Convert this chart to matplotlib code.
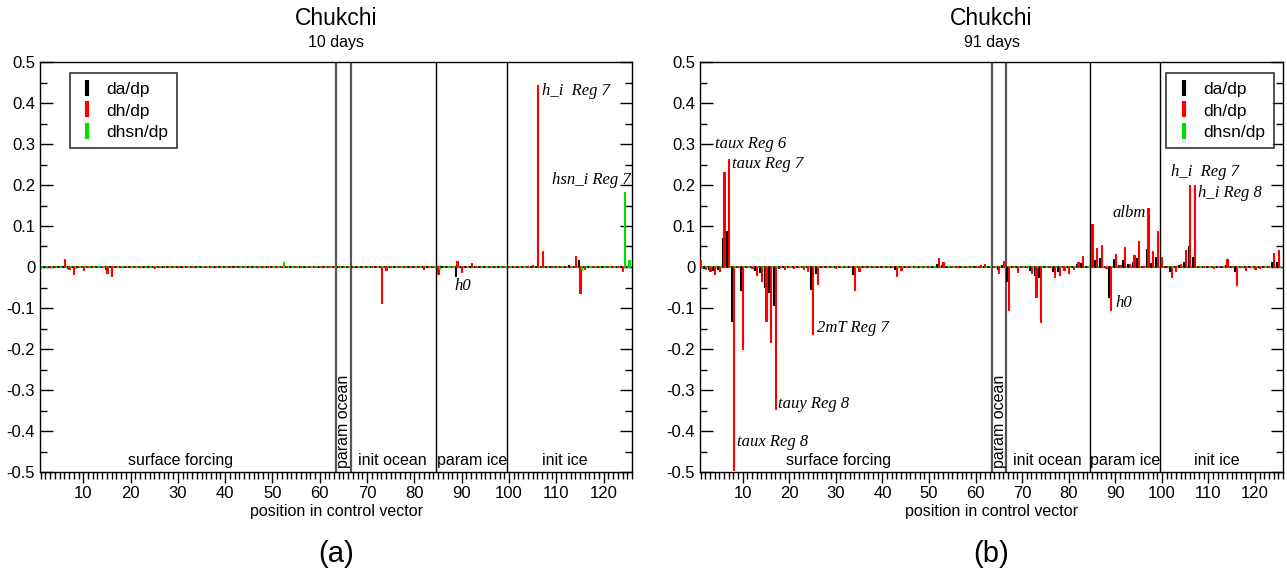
import matplotlib

matplotlib.use("Agg")
import matplotlib.pyplot as plt
import numpy as np
from matplotlib.lines import Line2D
from matplotlib.ticker import FuncFormatter, MultipleLocator

# --- data: (position in control vector, value); all other positions are 0 ---
n_pos = 125

da_10d = [(6, 0.003), (7, -0.002), (15, -0.006), (86, 0.002), (89, -0.022),
          (92, 0.002), (113, 0.004), (115, 0.016), (125, 0.002)]
dh_10d = [(6, 0.02), (7, -0.005), (8, -0.018), (10, -0.007), (15, -0.014),
          (16, -0.022), (25, -0.003), (73, -0.087), (74, -0.008), (82, -0.005),
          (85, -0.018), (89, 0.015), (90, -0.013), (92, 0.009), (105, 0.006),
          (106, 0.445), (107, 0.039), (109, 0.003), (114, 0.027), (115, -0.064),
          (116, -0.005), (124, -0.01)]
dhsn_10d = [(8, -0.003), (52, 0.011), (85, -0.004), (87, 0.002), (115, -0.007),
            (124, 0.183), (125, 0.016)]

da_91d = [(2, -0.003), (3, -0.005), (4, -0.008), (5, -0.004), (6, 0.07), (7, 0.087),
          (8, -0.132), (10, -0.057), (13, -0.008), (14, -0.012), (15, -0.049),
          (16, -0.06), (17, -0.092), (18, -0.003), (25, -0.053), (26, -0.015),
          (34, -0.017), (43, -0.006), (52, 0.007), (53, 0.004), (65, -0.005),
          (66, 0.006), (67, -0.035), (72, -0.008), (73, -0.02), (74, -0.025),
          (77, -0.01), (78, -0.01), (82, 0.008), (83, 0.01), (85, 0.041), (86, 0.018),
          (87, 0.022), (89, -0.072), (90, 0.02), (91, 0.006), (92, 0.017), (93, 0.008),
          (94, 0.012), (95, 0.023), (97, 0.043), (98, 0.01), (99, 0.024), (100, 0.005),
          (102, -0.01), (104, 0.004), (105, 0.012), (106, 0.051), (107, 0.024),
          (114, 0.004), (116, -0.01), (124, 0.013), (125, 0.013)]
dh_91d = [(1, 0.018), (2, -0.005), (3, -0.01), (4, -0.016), (5, -0.01), (6, 0.231),
          (7, 0.263), (8, -0.495), (10, -0.199), (12, -0.003), (13, -0.02),
          (14, -0.035), (15, -0.132), (16, -0.182), (17, -0.347), (19, -0.006),
          (21, -0.003), (23, -0.004), (24, -0.01), (25, -0.164), (26, -0.042),
          (30, -0.003), (34, -0.055), (35, -0.01), (43, -0.023), (44, -0.008),
          (52, 0.023), (53, 0.013), (56, 0.002), (60, 0.003), (61, 0.004), (62, 0.008),
          (65, -0.015), (66, 0.014), (67, -0.104), (68, 0.002), (69, -0.012),
          (72, -0.015), (73, -0.073), (74, -0.133), (77, -0.025), (78, -0.02),
          (79, -0.008), (80, -0.015), (81, -0.005), (82, 0.012), (83, 0.028),
          (85, 0.104), (86, 0.047), (87, 0.054), (88, -0.003), (89, -0.104), (90, 0.031),
          (91, 0.005), (92, 0.048), (93, 0.008), (94, 0.03), (95, 0.064), (96, 0.003),
          (97, 0.145), (98, 0.04), (99, 0.087), (100, 0.025), (101, 0.002),
          (102, -0.024), (103, -0.01), (104, 0.008), (105, 0.041), (106, 0.199),
          (107, 0.199), (111, -0.003), (114, 0.02), (116, -0.045), (118, -0.007),
          (120, -0.004), (121, -0.003), (124, 0.035), (125, 0.041)]
dhsn_91d = [(66, 0.001)]

series_names = ["da/dp", "dh/dp", "dhsn/dp"]
series_colors = ["#000000", "#ff0000", "#00dd00"]
section_bounds = [63.5, 66.5, 84.5, 99.5]
section_labels = [("surface forcing", 30.6), ("init ocean", 75.4),
                  ("param ice", 92.1), ("init ice", 111.8)]

notes_10d = [("h_i  Reg 7", 106.9, 0.43), ("hsn_i Reg 7", 109.0, 0.213), ("h0", 88.4, -0.046)]
notes_91d = [("taux Reg 6", 4.0, 0.30), ("taux Reg 7", 7.7, 0.251), ("taux Reg 8", 8.8, -0.428),
             ("tauy Reg 8", 17.7, -0.334), ("2mT Reg 7", 25.9, -0.148), ("h0", 90.0, -0.088),
             ("albm", 89.4, 0.132), ("h_i  Reg 7", 101.9, 0.232), ("h_i Reg 8", 107.8, 0.181)]


def to_dense(pairs):
    v = np.zeros(n_pos)
    for p, val in pairs:
        v[p - 1] = val
    return v


def draw_panel(ax, series, notes, days, tag, legend_anchor):
    x = np.arange(1, n_pos + 1)
    offsets = [-0.36, 0.0, 0.36]
    w = 0.26
    for vals, col, off in zip(series, series_colors, offsets):
        # bar baselines (zero-height bars show as short dashes along y=0)
        ax.hlines(np.zeros(n_pos), x + off - w / 2 - 0.05, x + off + w / 2 + 0.05,
                  color=col, linewidth=1.3, zorder=2.5)
        ax.bar(x + off, to_dense(vals), width=w, color=col, edgecolor=col,
               linewidth=0.8, zorder=3)

    for b in section_bounds:
        inner = b < 67
        ax.axvline(b, color="#555555" if inner else "black",
                   linewidth=1.6 if inner else 1.0, zorder=2)

    for txt, xc in section_labels:
        ax.text(xc, -0.473, txt, ha="center", va="center", fontsize=11.5, zorder=4)
    ax.text(65.1, -0.49, "param ocean", rotation=90, ha="center", va="bottom",
            fontsize=11.5, zorder=4)

    for txt, xt, yt in notes:
        ax.text(xt, yt, txt, ha="left", va="center", fontsize=12,
                family="Liberation Serif", style="italic", zorder=5)

    ax.set_xlim(0.85, 126)
    ax.set_ylim(-0.5, 0.5)
    ax.xaxis.set_major_locator(MultipleLocator(10))
    ax.xaxis.set_minor_locator(MultipleLocator(1))
    ax.yaxis.set_major_locator(MultipleLocator(0.1))
    ax.yaxis.set_minor_locator(MultipleLocator(0.05))
    ax.yaxis.set_major_formatter(FuncFormatter(lambda v, _: "0" if abs(v) < 1e-9 else f"{v:.1f}"))
    ax.tick_params(axis="y", which="both", direction="in", left=True, right=True,
                   labelsize=12, width=1)
    ax.tick_params(axis="y", which="major", length=9)
    ax.tick_params(axis="y", which="minor", length=5)
    ax.tick_params(axis="x", which="both", direction="out", bottom=True, top=False,
                   labelsize=12, width=1)
    ax.tick_params(axis="x", which="major", length=8, pad=2)
    ax.tick_params(axis="x", which="minor", length=5)
    for s in ax.spines.values():
        s.set_linewidth(1.0)

    ax.set_xlabel("position in control vector", fontsize=11.5, labelpad=2)
    ax.text(0.5, 1.105, "Chukchi", transform=ax.transAxes, ha="center", va="center",
            fontsize=16.5)
    ax.text(0.5, 1.048, days, transform=ax.transAxes, ha="center", va="center",
            fontsize=11.5)
    ax.text(0.5, -0.2, tag, transform=ax.transAxes, ha="center", va="center",
            fontsize=21)

    handles = [Line2D([], [], linestyle="none", marker="|", markersize=12,
                      markeredgewidth=3, color=c) for c in series_colors]
    leg = ax.legend(handles, series_names, loc="upper left", bbox_to_anchor=legend_anchor,
                    fontsize=12.5, frameon=True, fancybox=False, handlelength=1.0,
                    handletextpad=0.6, borderpad=0.5, labelspacing=0.35, borderaxespad=0)
    leg.get_frame().set_edgecolor("black")
    leg.get_frame().set_linewidth(1.2)
    leg.set_zorder(6)


plt.rcParams["font.family"] = ["Liberation Sans", "DejaVu Sans"]
fig = plt.figure(figsize=(12.87, 5.76), dpi=100)
ax1 = fig.add_axes([40 / 1287, 1 - 472 / 576, 592 / 1287, 410 / 576])
ax2 = fig.add_axes([700 / 1287, 1 - 472 / 576, 583 / 1287, 410 / 576])

draw_panel(ax1, [da_10d, dh_10d, dhsn_10d], notes_10d, "10 days", "(a)", (0.05, 0.972))
draw_panel(ax2, [da_91d, dh_91d, dhsn_91d], notes_91d, "91 days", "(b)", (0.80, 0.972))

fig.savefig("out.png", dpi=100)
